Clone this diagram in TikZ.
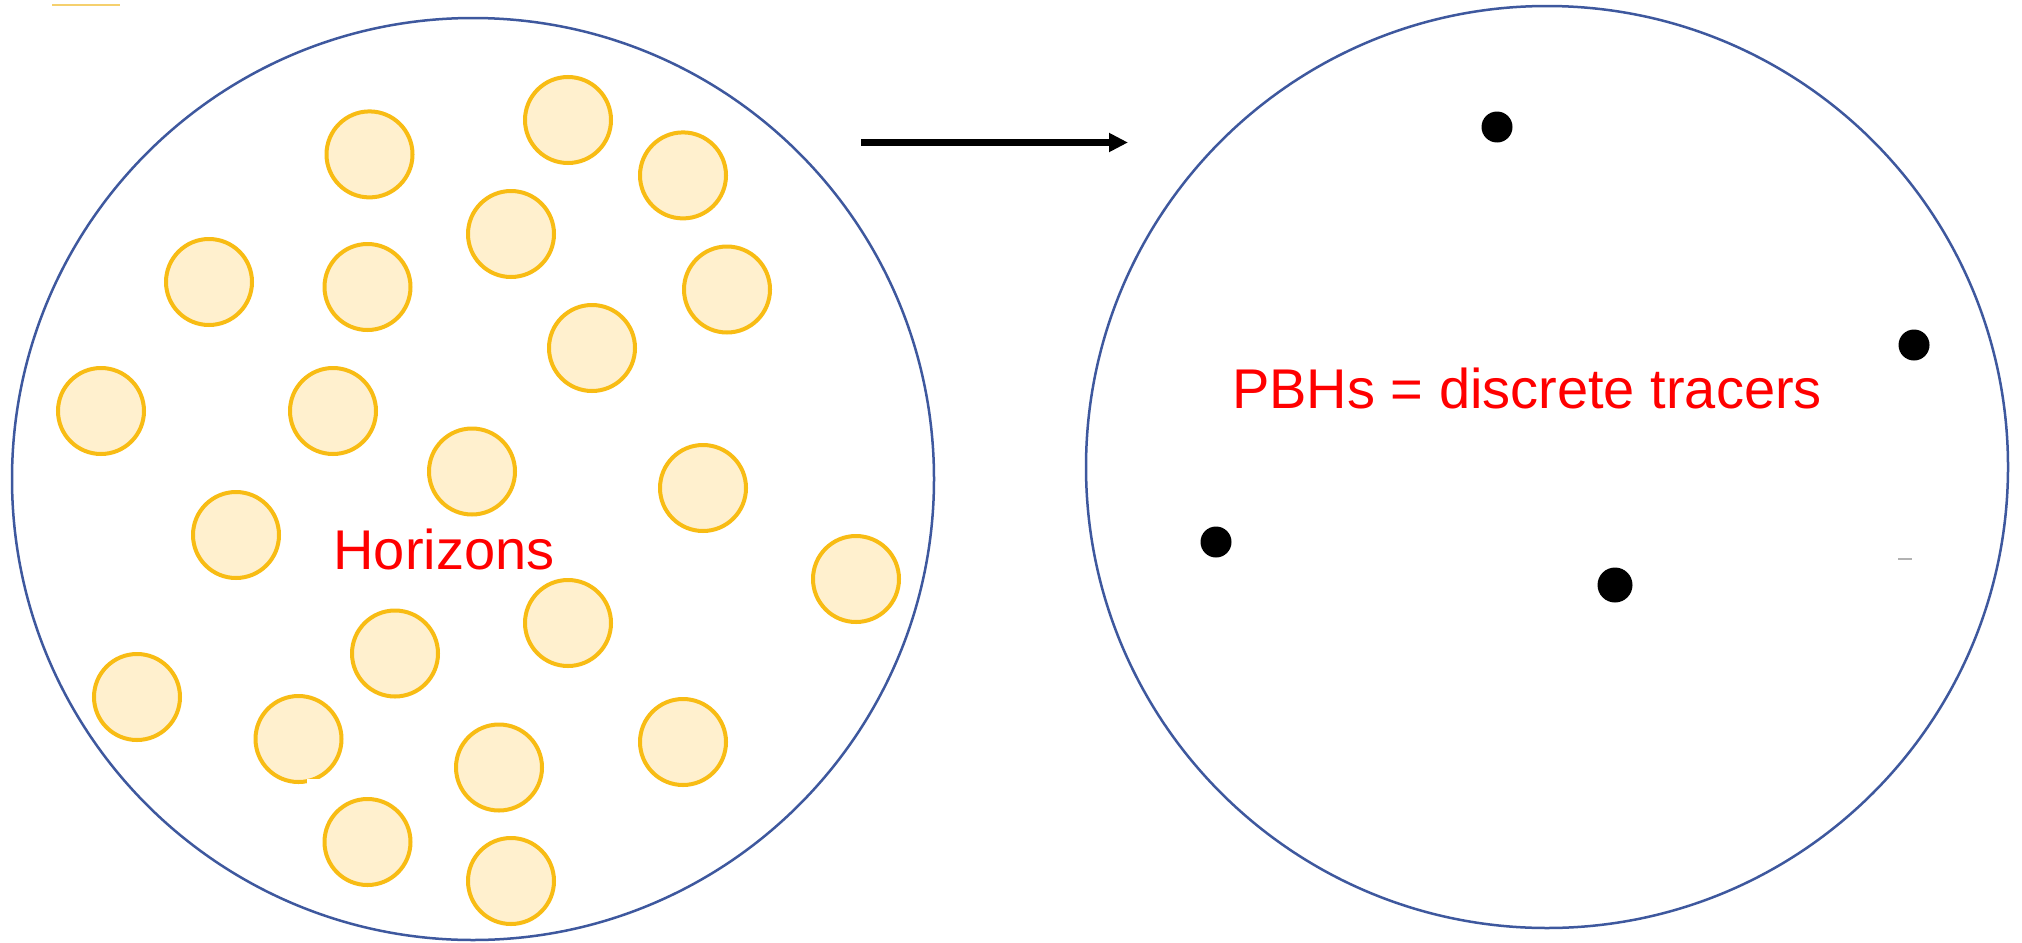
\documentclass[tikz,border=0pt]{standalone}
\usepackage{fontspec}
\setmainfont{Liberation Sans}
\usetikzlibrary{arrows.meta}
\definecolor{ringblue}{RGB}{62,88,158}
\definecolor{horizonfill}{RGB}{255,240,206}
\definecolor{horizonedge}{RGB}{248,188,20}
\definecolor{labelred}{RGB}{255,0,0}
\definecolor{tickyellow}{RGB}{245,208,110}
\begin{document}
\begin{tikzpicture}[x=0.5pt,y=-0.5pt,
  region/.style={circle,draw=ringblue,line width=1.25pt,minimum size=461pt,inner sep=0pt},
  horizon/.style={circle,draw=horizonedge,fill=horizonfill,line width=2pt,minimum size=43pt,inner sep=0pt},
  pbh/.style={circle,fill=black,minimum size=15.5pt,inner sep=0pt},
  bigpbh/.style={pbh,minimum size=17.5pt},
  lbl/.style={text=labelred,font=\fontsize{28}{34}\selectfont,anchor=base,inner sep=0pt},
  maparrow/.style={line width=3.5pt,-{Triangle[length=9.5pt,width=9pt]}}]
\useasboundingbox (0,0) rectangle (2022,942);
\fill[white] (0,0) rectangle (2022,942);
% stray marks
\coordinate (ta) at (52,5); \coordinate (tb) at (120,5);
\draw[tickyellow,line width=0.8pt] (ta) -- (tb);
\coordinate (ga) at (1898,559); \coordinate (gb) at (1912,559);
\draw[gray!60,line width=0.6pt] (ga) -- (gb);
% regions
\node[region] (left) at (473,479) {};
\node[region] (right) at (1547,467) {};
% horizons
\node[horizon] (h1) at (369.5,154.4) {};
\node[horizon] (h2) at (568,120) {};
\node[horizon] (h3) at (683,175.4) {};
\node[horizon] (h4) at (511,234) {};
\node[horizon] (h5) at (209,282) {};
\node[horizon] (h6) at (367.5,287) {};
\node[horizon] (h7) at (727,289.5) {};
\node[horizon] (h8) at (592,348) {};
\node[horizon] (h9) at (101,411) {};
\node[horizon] (h10) at (333,411) {};
\node[horizon] (h11) at (472,471.5) {};
\node[horizon] (h12) at (703,488) {};
\node[horizon] (h13) at (236,535) {};
\node[horizon] (h14) at (856,579) {};
\node[horizon] (h15) at (568,623) {};
\node[horizon] (h16) at (395,653.5) {};
\node[horizon] (h17) at (137,697) {};
\node[horizon] (h18) at (298.5,739) {};
\node[horizon] (h19) at (499,767.5) {};
\node[horizon] (h20) at (683,742) {};
\node[horizon] (h21) at (367.5,842) {};
\node[horizon] (h22) at (511,881) {};
\coordinate (wa) at (307,779); \coordinate (wb) at (323,791);
\fill[white] (wa) rectangle (wb);
% labels
\node[lbl] (hor) at (444,569) {Horizons};
\node[lbl] (trc) at (1527,408) {PBHs = discrete tracers};
% PBHs
\node[pbh] (p1) at (1497,127) {};
\node[pbh] (p2) at (1914,345) {};
\node[pbh] (p3) at (1216,542) {};
\node[bigpbh] (p4) at (1615,585) {};
% arrow
\coordinate (as) at (861,142.5);
\coordinate (ae) at (1128,142.5);
\draw[maparrow] (as) -- (ae);
\end{tikzpicture}
\end{document}
